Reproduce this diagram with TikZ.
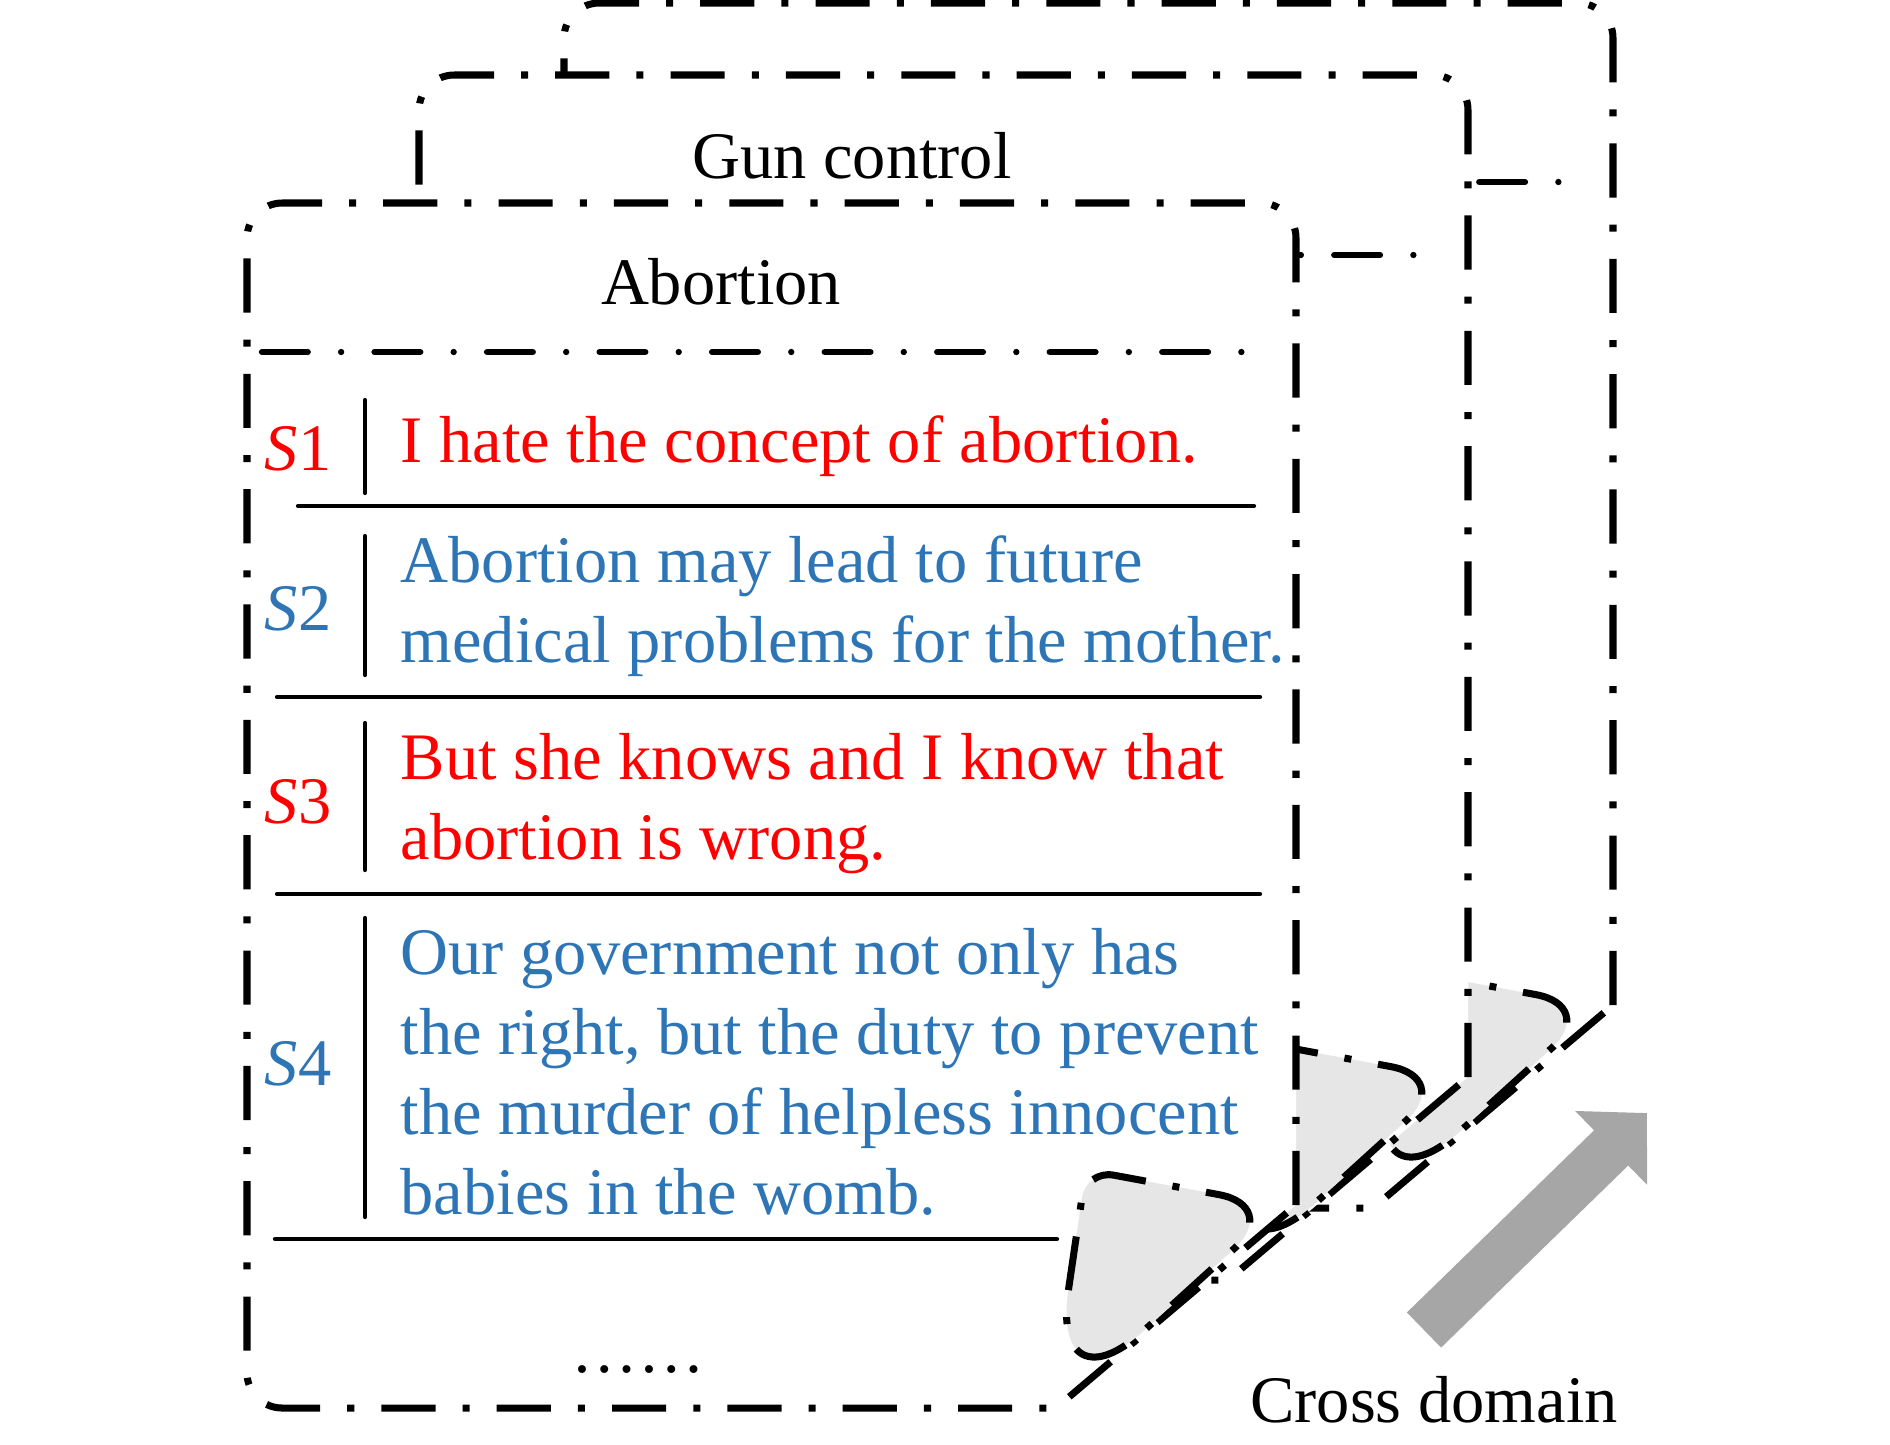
\documentclass[tikz,border=0pt]{standalone}
\usepackage{fontspec}
\setmainfont{Liberation Serif}
\usetikzlibrary{arrows.meta}

\definecolor{sent-red}{HTML}{FF0000}
\definecolor{sent-blue}{HTML}{2E75B6}
\definecolor{flap-gray}{HTML}{E6E6E6}
\definecolor{arrow-gray}{HTML}{A6A6A6}

\tikzset{
    % cards
    card-border/.style={
        draw=black,
        fill=white,
        line width=2pt,
        dash pattern=on 15.4pt off 7.7pt on 2pt off 7.7pt
    },
    card-flap/.style={
        card-border,
        fill=flap-gray
    },
    header-line/.style={
        line width=1.8pt,
        line cap=round,
        dash pattern=on 13pt off 9.5pt on 0pt off 9.5pt
    },
    % rows
    row-line/.style={
        line width=1.2pt,
        line cap=round
    },
    row-bar/.style={
        line width=1.2pt,
        line cap=round
    },
    row-text/.style={
        anchor=base west,
        inner sep=0pt,
        font=\fontsize{18.9}{22.76}\selectfont
    },
    row-label/.style={
        anchor=base,
        inner sep=0pt,
        font=\fontsize{18.9}{22.76}\selectfont
    },
    title/.style={
        anchor=base,
        inner sep=0pt,
        font=\fontsize{18.9}{22.76}\selectfont
    },
    % arrow
    domain-arrow/.style={
        draw=arrow-gray,
        line width=0.49cm,
        -{Triangle[width=1cm, length=0.5cm]}
    }
}

\begin{document}
\begin{tikzpicture}[x=0.01cm, y=-0.01cm]
    \useasboundingbox (0,0) rectangle (1890,1444);

    % draw cards, back to front
    \foreach \dx/\dy/\hy in {317/-200/382, 172/-128/383, 0/0/352} {
        \begin{scope}[shift={(\dx,\dy)}]
            \draw [card-border] (1296,1205) [rounded corners=10pt] -- (1296,203) -- (247,203) -- (247,1408) [sharp corners] -- (1056,1408) -- cycle;
            \draw [header-line] (262,\hy) -- (1262,\hy);
            % folded corner
            \draw [card-flap] (1183,1188) [rounded corners=18pt] -- (1281,1206) [rounded corners=36pt] -- (1050,1416) [rounded corners=8pt] -- (1086,1170) -- cycle;
        \end{scope}
    }

    % titles
    \node [title] (title-gun) at (852,178) {Gun control};
    \node [title] (title-abortion) at (721,304) {Abortion};

    % row labels, bars and lines
    \foreach \c/\y [count=\i] in {sent-red/470, sent-blue/630, sent-red/823, sent-blue/1085}
        \node [row-label, text=\c] (label-\i) at (298,\y) {\textit{S}\i};

    \foreach \t/\b in {400/493, 536/675, 723/870, 918/1217}
        \draw [row-bar] (365,\t) -- (365,\b);

    \foreach \xa/\y/\xb in {298/506/1254, 277/697/1260, 277/894/1260, 275/1239/1057}
        \draw [row-line] (\xa,\y) -- (\xb,\y);

    % sentences
    \node [row-text, text=sent-red] (sent-1) at (400,462) {I hate the concept of abortion.};
    \node [row-text, text=sent-blue] (sent-2) at (400,582) {\begin{tabular}[t]{@{}l@{}}Abortion may lead to future\\ medical problems for the mother.\end{tabular}};
    \node [row-text, text=sent-red] (sent-3) at (400,779) {\begin{tabular}[t]{@{}l@{}}But she knows and I know that\\ abortion is wrong.\end{tabular}};
    \node [row-text, text=sent-blue] (sent-4) at (400,974) {\begin{tabular}[t]{@{}l@{}}Our government not only has\\ the right, but the duty to prevent\\ the murder of helpless innocent\\ babies in the womb.\end{tabular}};
    \node [title] (more) at (638,1372) {……};

    % cross domain
    \coordinate (arrow-tail) at (1424,1330);
    \coordinate (arrow-tip) at (1647,1113);
    \draw [domain-arrow] (arrow-tail) -- (arrow-tip);
    \node [title] (cross-domain) at (1434,1422) {Cross domain};
\end{tikzpicture}
\end{document}
